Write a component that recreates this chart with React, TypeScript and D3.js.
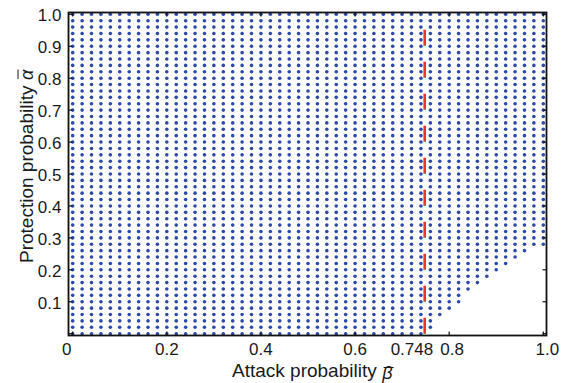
import React, { useRef, useEffect } from 'react';
import * as d3 from 'd3';

// sampling grid of the two probabilities
const betaGrid = [
  0, 0.02, 0.04, 0.06, 0.08, 0.1, 0.12, 0.14, 0.16, 0.18, 0.2, 0.22, 0.24, 0.26, 0.28, 0.3, 0.32,
  0.34, 0.36, 0.38, 0.4, 0.42, 0.44, 0.46, 0.48, 0.5, 0.52, 0.54, 0.56, 0.58, 0.6, 0.62, 0.64,
  0.66, 0.68, 0.7, 0.72, 0.74, 0.76, 0.78, 0.8, 0.82, 0.84, 0.86, 0.88, 0.9, 0.92, 0.94, 0.96,
  0.98, 1.0,
];
const alphaGrid = [
  0, 0.02, 0.04, 0.06, 0.08, 0.1, 0.12, 0.14, 0.16, 0.18, 0.2, 0.22, 0.24, 0.26, 0.28, 0.3, 0.32,
  0.34, 0.36, 0.38, 0.4, 0.42, 0.44, 0.46, 0.48, 0.5, 0.52, 0.54, 0.56, 0.58, 0.6, 0.62, 0.64,
  0.66, 0.68, 0.7, 0.72, 0.74, 0.76, 0.78, 0.8, 0.82, 0.84, 0.86, 0.88, 0.9, 0.92, 0.94, 0.96,
  0.98, 1.0,
];
// rows that stop before beta = 1 (lower right empty corner)
const cutAlpha = [0, 0.02, 0.04, 0.06, 0.08, 0.1, 0.12, 0.14, 0.16, 0.18, 0.2, 0.22, 0.24, 0.26];
const cutMaxBeta = [0.74, 0.76, 0.76, 0.78, 0.8, 0.82, 0.82, 0.84, 0.86, 0.88, 0.9, 0.92, 0.94, 0.96];

const thresholdBeta = 0.748;
const xTicks = [0, 0.2, 0.4, 0.6, 0.8, 1.0];
const xTickLabels = ['0', '0.2', '0.4', '0.6', '0.8', '1.0'];
const yTicks = [0.1, 0.2, 0.3, 0.4, 0.5, 0.6, 0.7, 0.8, 0.9, 1.0];
const yTickLabels = ['0.1', '0.2', '0.3', '0.4', '0.5', '0.6', '0.7', '0.8', '0.9', '1.0'];

const W = 566;
const H = 383;

export default function App() {
  const svgRef = useRef<SVGSVGElement | null>(null);

  useEffect(() => {
    if (!svgRef.current) return;
    const svg = d3.select(svgRef.current);
    svg.selectAll('*').remove();

    const box = { left: 68.5, right: 546.5, top: 12.5, bottom: 335.5 };
    const x = d3.scaleLinear().domain([0, 1]).range([72.7, 543.3]);
    const y = d3.scaleLinear().domain([0, 1]).range([333.7, 14.3]);
    const font = "'Liberation Sans', Arial, sans-serif";
    const ink = '#1a1a1a';

    const maxBetaFor = (a: number) => {
      const i = cutAlpha.findIndex(c => Math.abs(c - a) < 1e-9);
      return i >= 0 ? cutMaxBeta[i] : 1;
    };

    const points: [number, number][] = [];
    alphaGrid.forEach(a => {
      const m = maxBetaFor(a);
      betaGrid.forEach(b => {
        if (b <= m + 1e-9) points.push([b, a]);
      });
    });

    svg.append('g')
      .selectAll('circle')
      .data(points)
      .join('circle')
      .attr('cx', d => x(d[0]))
      .attr('cy', d => y(d[1]))
      .attr('r', 1.8)
      .attr('fill', '#2c48a8');

    // threshold line
    svg.append('line')
      .attr('x1', x(thresholdBeta)).attr('x2', x(thresholdBeta))
      .attr('y1', y(0)).attr('y2', y(1))
      .attr('stroke', '#e8362d')
      .attr('stroke-width', 2.6)
      .attr('stroke-dasharray', '16,16');

    // axes box
    svg.append('rect')
      .attr('x', box.left).attr('y', box.top)
      .attr('width', box.right - box.left).attr('height', box.bottom - box.top)
      .attr('fill', 'none').attr('stroke', '#111').attr('stroke-width', 1.8);

    const tickLen = 4;
    const ticks = svg.append('g').attr('stroke', '#111').attr('stroke-width', 1.2);
    xTicks.forEach(t => {
      ticks.append('line').attr('x1', x(t)).attr('x2', x(t))
        .attr('y1', box.bottom).attr('y2', box.bottom - tickLen);
      ticks.append('line').attr('x1', x(t)).attr('x2', x(t))
        .attr('y1', box.top).attr('y2', box.top + tickLen);
    });
    [0, ...yTicks].forEach(t => {
      ticks.append('line').attr('x1', box.left).attr('x2', box.left + tickLen)
        .attr('y1', y(t)).attr('y2', y(t));
      ticks.append('line').attr('x1', box.right).attr('x2', box.right - tickLen)
        .attr('y1', y(t)).attr('y2', y(t));
    });

    // tick labels
    const xShift = (t: number) => (t === 0 ? -6 : t === 1 ? 4 : t === 0.8 ? 3 : 0);
    svg.append('g')
      .selectAll('text')
      .data(xTicks)
      .join('text')
      .attr('x', d => x(d) + xShift(d))
      .attr('y', 355)
      .attr('text-anchor', 'middle')
      .style('font-family', font).style('font-size', '17px').attr('fill', ink)
      .text((d, i) => xTickLabels[i]);

    svg.append('text')
      .attr('x', x(thresholdBeta) + 8.5)
      .attr('y', 355)
      .attr('text-anchor', 'end')
      .style('font-family', font).style('font-size', '17px').attr('fill', ink)
      .text(String(thresholdBeta));

    svg.append('g')
      .selectAll('text')
      .data(yTicks)
      .join('text')
      .attr('x', 61.5)
      .attr('y', d => y(d) + 1)
      .attr('dy', '0.36em')
      .attr('text-anchor', 'end')
      .style('font-family', font).style('font-size', '17px').attr('fill', ink)
      .text((d, i) => yTickLabels[i]);

    // x axis label with β̄
    const xl = svg.append('text')
      .attr('x', 232).attr('y', 377)
      .style('font-family', font).style('font-size', '19px').attr('fill', ink)
      .text('Attack probability');
    const xw = (xl.node() as SVGTextElement).getComputedTextLength();
    const bx = 232 + xw + 5.5;
    svg.append('text')
      .attr('x', bx).attr('y', 379)
      .style('font-family', font).style('font-size', '18px').style('font-style', 'italic')
      .attr('fill', ink)
      .text('β');
    svg.append('line')
      .attr('x1', bx + 1.5).attr('x2', bx + 11.5)
      .attr('y1', 367.5).attr('y2', 367.5)
      .attr('stroke', ink).attr('stroke-width', 1);

    // y axis label with ᾱ
    const yl = svg.append('text')
      .attr('transform', 'translate(33,263) rotate(-90)')
      .style('font-family', font).style('font-size', '19px').attr('fill', ink)
      .text('Protection probability');
    const yw = (yl.node() as SVGTextElement).getComputedTextLength();
    const ay = 263 - yw - 5.5;
    svg.append('text')
      .attr('transform', `translate(33,${ay}) rotate(-90)`)
      .style('font-family', font).style('font-size', '18px').style('font-style', 'italic')
      .attr('fill', ink)
      .text('α');
    svg.append('line')
      .attr('x1', 18).attr('x2', 18)
      .attr('y1', ay - 1).attr('y2', ay - 10.5)
      .attr('stroke', ink).attr('stroke-width', 1);
  }, []);

  return (
    <svg
      ref={svgRef}
      width={W}
      height={H}
      style={{ position: 'absolute', left: 0, top: 0, background: '#fff' }}
    />
  );
}
